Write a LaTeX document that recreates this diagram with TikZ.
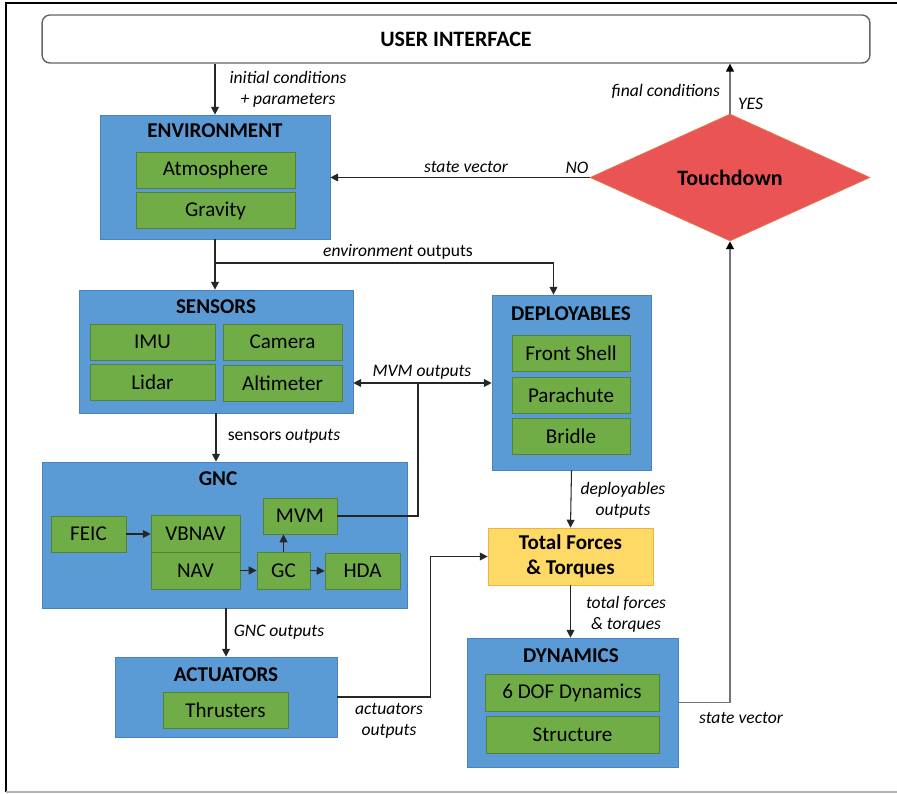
\documentclass[tikz,border=0pt]{standalone}
\usepackage{fontspec}
\setmainfont{Carlito}
\definecolor{moduleblue}{RGB}{91,155,213}
\definecolor{moduleline}{RGB}{74,130,190}
\definecolor{subgreen}{RGB}{112,173,71}
\definecolor{subline}{RGB}{84,130,53}
\definecolor{forceyellow}{RGB}{255,217,102}
\definecolor{forceline}{RGB}{240,180,60}
\definecolor{decisionred}{RGB}{235,84,84}
\definecolor{decisionline}{RGB}{222,125,75}
\definecolor{uiline}{RGB}{100,100,100}
\usetikzlibrary{arrows.meta, positioning, shapes.geometric}

\begin{document}
\begin{tikzpicture}[x=0.02cm, y=-0.02cm,
  module/.style={draw=moduleline, fill=moduleblue, inner sep=0pt},
  submodule/.style={draw=subline, fill=subgreen, inner sep=0pt, font=\fontsize{12}{14}\selectfont},
  title/.style={font=\fontsize{12}{14}\selectfont\bfseries},
  lbl/.style={font=\fontsize{10}{12}\selectfont\itshape, align=center, inner sep=1pt},
  flow/.style={-{Triangle[length=4.5pt, width=4.5pt]}, line width=0.6pt, black!85},
  feedback/.style={-{Triangle[length=4.5pt, width=4.5pt, color=black]}, line width=0.8pt, black!55}]
  \useasboundingbox (0,0) rectangle (897,794);

  % frame
  \draw[line width=0.9pt] (897,3) -- (6,3) -- (6,792);
  \draw[line width=0.9pt, black!30] (6,792) -- (897,792);

  % user interface and decision
  \node[draw=uiline, line width=0.8pt, rounded corners=4.5pt, minimum width=16.56cm, minimum height=0.96cm,
    font=\fontsize{12.5}{14}\selectfont\bfseries] (ui) at (456,39) {USER INTERFACE};
  \node[diamond, draw=decisionline, fill=decisionred, inner sep=0pt, minimum width=5.6cm, minimum height=2.54cm,
    font=\fontsize{12.5}{14}\selectfont\bfseries] (touch) at (730,177.5) {Touchdown};

  % environment
  \node[module, minimum width=4.6cm, minimum height=2.48cm] (env) at (215,177) {};
  \node[title] (envtitle) at (215,131) {ENVIRONMENT};
  \node[submodule, minimum width=3.18cm, minimum height=0.72cm] (atmo) at (215.5,170) {Atmosphere};
  \node[submodule, minimum width=3.18cm, minimum height=0.72cm] (grav) at (215.5,210.5) {Gravity};

  % sensors
  \node[module, minimum width=5.48cm, minimum height=2.46cm] (sensors) at (216,351.5) {};
  \node[title] (sensorstitle) at (216,307) {SENSORS};
  \node[submodule, minimum width=2.5cm, minimum height=0.72cm] (imu) at (152.5,342) {IMU};
  \node[submodule, minimum width=2.38cm, minimum height=0.72cm] (camera) at (282.5,342) {Camera};
  \node[submodule, minimum width=2.5cm, minimum height=0.72cm] (lidar) at (152.5,382) {Lidar};
  \node[submodule, minimum width=2.38cm, minimum height=0.72cm] (alti) at (282.5,383) {Altimeter};

  % deployables
  \node[module, minimum width=3.18cm, minimum height=3.5cm] (deploy) at (571.5,382.5) {};
  \node[title] (deploytitle) at (571,314) {DEPLOYABLES};
  \node[submodule, minimum width=2.36cm, minimum height=0.72cm] (shell) at (571,353) {Front Shell};
  \node[submodule, minimum width=2.36cm, minimum height=0.72cm] (chute) at (571,395) {Parachute};
  \node[submodule, minimum width=2.36cm, minimum height=0.72cm] (bridle) at (571,436) {Bridle};

  % gnc
  \node[module, minimum width=7.3cm, minimum height=2.92cm] (gnc) at (224.5,535) {};
  \node[title] (gnctitle) at (218,479) {GNC};
  \node[submodule, minimum width=1.5cm, minimum height=0.72cm] (feic) at (88.5,534) {FEIC};
  \node[submodule, minimum width=1.78cm, minimum height=0.74cm] (vbnav) at (195.5,533.5) {VBNAV};
  \node[submodule, minimum width=1.78cm, minimum height=0.74cm] (nav) at (195.5,570.5) {NAV};
  \node[submodule, minimum width=1.48cm, minimum height=0.72cm] (mvm) at (300,516) {MVM};
  \node[submodule, minimum width=1.06cm, minimum height=0.74cm] (gc) at (283.5,570.5) {GC};
  \node[submodule, minimum width=1.5cm, minimum height=0.72cm] (hda) at (362.5,571) {HDA};

  % actuators
  \node[module, minimum width=4.44cm, minimum height=1.6cm] (act) at (226,697) {};
  \node[title] (acttitle) at (226,675) {ACTUATORS};
  \node[submodule, minimum width=2.5cm, minimum height=0.72cm] (thrust) at (225.5,710) {Thrusters};

  % forces and dynamics
  \node[draw=forceline, fill=forceyellow, minimum width=3.3cm, minimum height=1.14cm, align=center,
    font=\fontsize{12}{14.5}\selectfont\bfseries] (forces) at (570.5,556.5) {Total Forces\\\& Torques};
  \node[module, minimum width=4.22cm, minimum height=2.58cm] (dyn) at (572.5,702.5) {};
  \node[title] (dyntitle) at (571,656) {DYNAMICS};
  \node[submodule, minimum width=3.48cm, minimum height=0.74cm] (dof) at (572,692.5) {6 DOF Dynamics};
  \node[submodule, minimum width=3.46cm, minimum height=0.74cm] (struct) at (572.5,734.5) {Structure};

  % connectors
  \draw[flow] (ui.south -| env.north) -- (env.north);
  \node[lbl] (initlbl) at (288,89) {initial conditions\\+ parameters};
  \draw[feedback] (touch.north) -- (touch.north |- ui.south);
  \node[lbl, anchor=east] (finallbl) at (722,91) {final conditions};
  \node[lbl, anchor=west] (yeslbl) at (736,104) {YES};
  \draw[flow] (touch.west) -- (touch.west -| env.east);
  \node[lbl] (statelbl) at (466,167) {state vector};
  \node[lbl] (nolbl) at (577,168) {NO};

  \coordinate (envsplit) at (216,263);
  \draw[flow] (env.south) -- (env.south |- sensors.north);
  \draw[flow] (envsplit) -| ([xshift=-0.36cm]deploy.north);
  \node[lbl] (envlbl) at (398,252) {environment \upshape outputs};

  \coordinate (mvmjoin) at (418,383);
  \draw[flow] (mvm.east) -| (mvmjoin) -- (mvmjoin -| sensors.east);
  \draw[flow] (mvmjoin) -- (mvmjoin -| deploy.west);
  \node[lbl] (mvmlbl) at (422,372) {MVM outputs};

  \draw[flow] (sensors.south) -- (sensors.south |- gnc.north);
  \node[lbl] (sensorslbl) at (284,436) {\upshape sensors \itshape outputs};

  \draw[flow] (feic.east) -- (feic.east -| vbnav.west);
  \draw[flow] (nav.east) -- (gc.west);
  \draw[flow] (gc.east) -- (hda.west);
  \draw[flow] (gc.north) -- (gc.north |- mvm.south);

  \draw[flow] (act.north |- gnc.south) -- (act.north);
  \node[lbl] (gnclbl) at (279,632) {GNC outputs};

  \draw[flow] (act.east) -- ++(93,0) |- (forces.west);
  \node[lbl] (actlbl) at (389,721) {actuators\\outputs};

  \draw[flow] (deploy.south) -- (forces.north);
  \node[lbl] (deploylbl) at (623,500) {deployables\\outputs};

  \draw[flow] (forces.south) -- (forces.south |- dyn.north);
  \node[lbl] (forceslbl) at (626,614) {total forces\\\& torques};

  \draw[feedback] (dyn.east) -| (touch.south);
  \node[lbl] (dynlbl) at (741,718) {state vector};
\end{tikzpicture}
\end{document}
